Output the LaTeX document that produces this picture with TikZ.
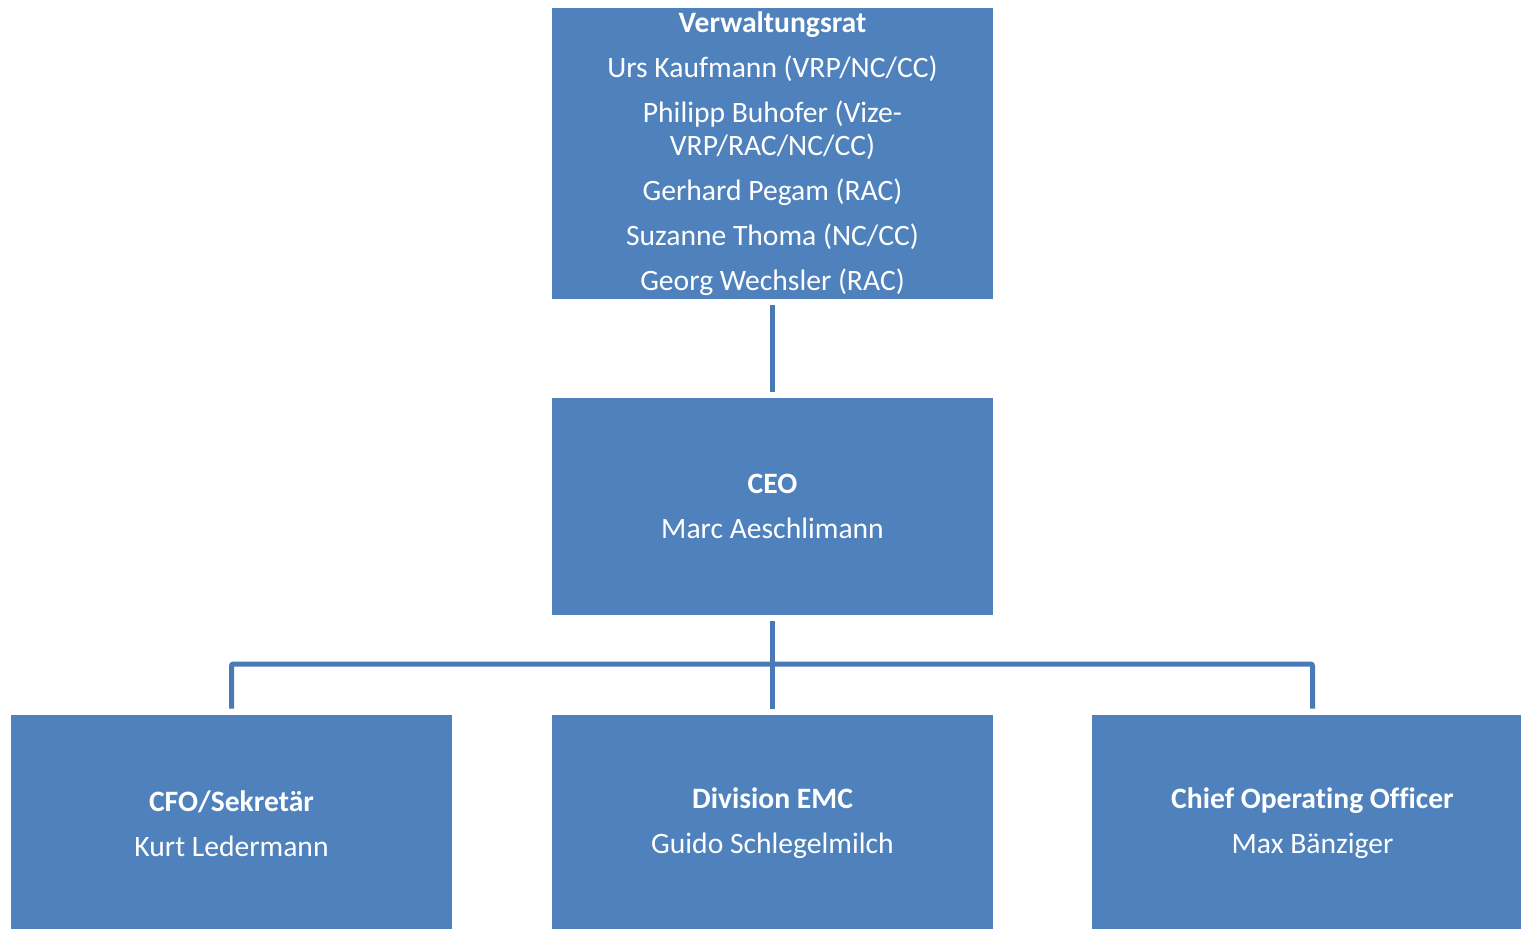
\documentclass[tikz,border=0pt]{standalone}
\usepackage{fontspec}
\setmainfont{Carlito}[Ligatures=NoCommon]
\usepackage{tikz}
\usetikzlibrary{positioning}

\definecolor{boxblue}{HTML}{4F81BD}
\definecolor{linkblue}{HTML}{4A7AB5}

\tikzset{
  orgbox/.style={fill=boxblue,text=white,inner sep=0pt,
    minimum width=220.5pt,minimum height=108.5pt,align=center,
    font=\fontsize{14.8}{16.5}\selectfont},
  link/.style={draw=linkblue,line width=2.5pt,shorten <=3pt,shorten >=3pt}
}

\begin{document}
\begin{tikzpicture}[x=0.5pt,y=-0.5pt]
\useasboundingbox (0,0) rectangle (1521,928);

\node[orgbox,minimum height=145.5pt] (vr) at (772.5,153.5) {
\textbf{Verwaltungsrat}\\[6pt]
Urs Kaufmann (VRP/NC/CC)\\[6pt]
Philipp Buhofer (Vize-\\
VRP/RAC/NC/CC)\\[6pt]
Gerhard Pegam (RAC)\\[6pt]
Suzanne Thoma (NC/CC)\\[6pt]
Georg Wechsler (RAC)
};

\node[orgbox] (ceo) at (772.5,506.5) {
\textbf{CEO}\\[6pt]
Marc Aeschlimann
};

\node[orgbox] (cfo) at (231.5,823.5) {
\textbf{CFO/Sekretär}\\[6pt]
Kurt Ledermann
};

\node[orgbox] (emc) at (772.5,823.5) {
\textbf{Division EMC}\\[6pt]
Guido Schlegelmilch
};

\node[orgbox] (coo) at (1312.5,823.5) {
\textbf{Chief Operating Officer}\\[6pt]
Max Bänziger
};

% connectors
\coordinate (bus) at (772.5,664);
\draw[link] (vr) -- (ceo);
\draw[link] (ceo) -- (emc);
\draw[link,rounded corners=1pt] (cfo.north) |- (bus) -| (coo.north);
\end{tikzpicture}
\end{document}
